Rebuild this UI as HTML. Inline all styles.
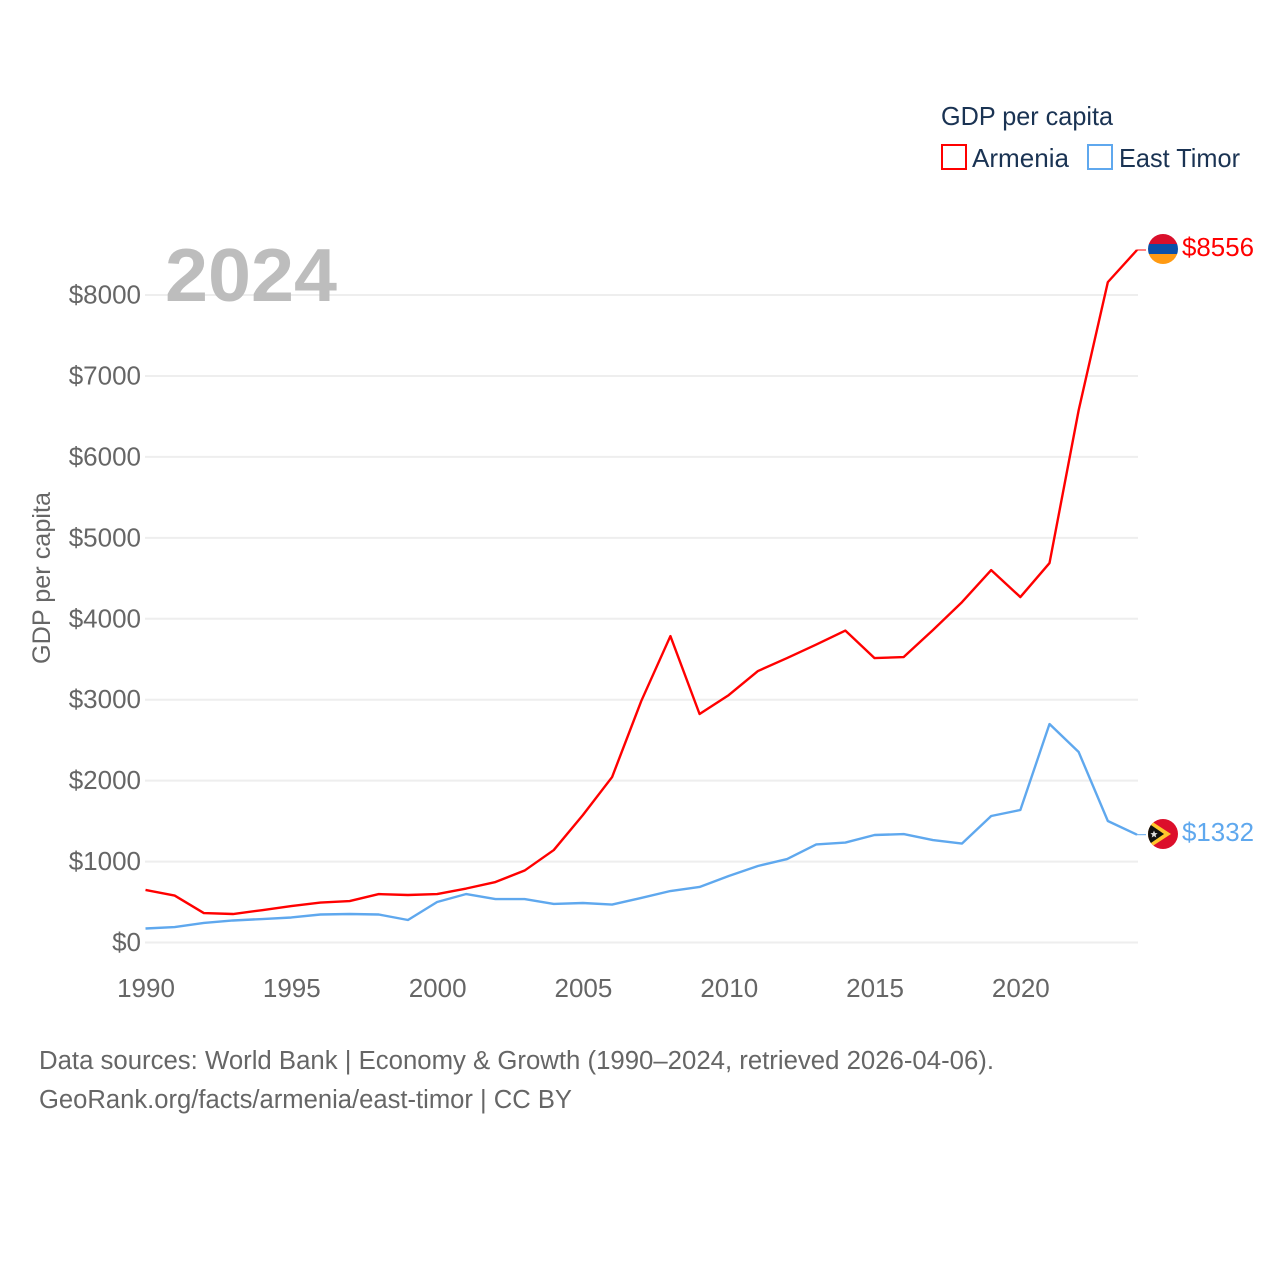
<!DOCTYPE html>
<html lang="en">
<head>
<meta charset="utf-8">
<title>GDP per capita: Armenia and East Timor</title>
<style>
html,body{margin:0;padding:0;background:#fff;width:1280px;height:1280px;overflow:hidden}
svg{display:block}
text{font-family:"Liberation Sans",sans-serif}
</style>
</head>
<body>
<svg id="chart" width="1280" height="1280" viewBox="0 0 1280 1280" xmlns="http://www.w3.org/2000/svg">
  <defs>
    <clipPath id="clip-am"><circle cx="1163" cy="249" r="15"/></clipPath>
    <clipPath id="clip-tl"><circle cx="1163" cy="834" r="15"/></clipPath>
  </defs>
  <g id="grid"></g>
  <g id="ytick-labels"></g>
  <g id="xtick-labels"></g>
  <text x="165" y="301" font-size="75" font-weight="700" fill="#bdbdbd" textLength="172" lengthAdjust="spacingAndGlyphs">2024</text>
  <text transform="translate(50,578) rotate(-90)" text-anchor="middle" font-size="25" fill="#666" textLength="172" lengthAdjust="spacingAndGlyphs">GDP per capita</text>
  <g id="series"></g>

  <g clip-path="url(#clip-am)">
    <rect x="1148" y="234" width="30" height="10" fill="#d90f2b"/>
    <rect x="1148" y="244" width="30" height="10" fill="#0a50a8"/>
    <rect x="1148" y="254" width="30" height="10" fill="#ff9a12"/>
  </g>
  <g clip-path="url(#clip-tl)">
    <rect x="1148" y="819" width="30" height="30" fill="#dc0f2b"/>
    <polygon points="1148,819 1171,834 1148,849" fill="#ffc72c"/>
    <polygon points="1148,823 1164,834 1148,845" fill="#111"/>
    <polygon points="1154,830.5 1155,833 1157.6,833.2 1155.6,834.9 1156.3,837.5 1154,836.1 1151.7,837.5 1152.4,834.9 1150.4,833.2 1153,833" fill="#ddd"/>
  </g>
  <text x="1182" y="256" font-size="25.5" fill="#ff0000" textLength="72" lengthAdjust="spacingAndGlyphs">$8556</text>
  <text x="1182" y="841" font-size="25.5" fill="#5fa8ee" textLength="72" lengthAdjust="spacingAndGlyphs">$1332</text>

  <g>
    <text x="941" y="125" font-size="26" fill="#1a3353" textLength="172" lengthAdjust="spacingAndGlyphs">GDP per capita</text>
    <g>
      <rect x="942" y="145" width="24" height="24" fill="#fff" stroke="#ff0000" stroke-width="2"/>
      <text x="972" y="167" font-size="26" fill="#1a3353" textLength="97" lengthAdjust="spacingAndGlyphs">Armenia</text>
    </g>
    <g>
      <rect x="1088" y="145" width="24" height="24" fill="#fff" stroke="#5fa8ee" stroke-width="2"/>
      <text x="1119" y="167" font-size="26" fill="#1a3353" textLength="121" lengthAdjust="spacingAndGlyphs">East Timor</text>
    </g>
  </g>

  <text x="39" y="1069" font-size="25.5" fill="#666" textLength="955" lengthAdjust="spacingAndGlyphs">Data sources: World Bank | Economy &amp; Growth (1990–2024, retrieved 2026-04-06).</text>
  <text x="39" y="1108" font-size="25.5" fill="#666" textLength="533" lengthAdjust="spacingAndGlyphs">GeoRank.org/facts/armenia/east-timor | CC BY</text>
</svg>
<script>
var years = [1990,1991,1992,1993,1994,1995,1996,1997,1998,1999,2000,2001,2002,2003,2004,2005,2006,2007,2008,2009,2010,2011,2012,2013,2014,2015,2016,2017,2018,2019,2020,2021,2022,2023,2024];
var armenia = [649,580,364,352,400,450,494,512,598,587,598,667,747,889,1142,1575,2044,2983,3786,2823,3057,3354,3514,3681,3854,3514,3527,3860,4206,4601,4268,4688,6578,8159,8556];
var eastTimor = [173,191,241,272,290,309,346,352,346,278,500,599,537,537,476,488,469,550,636,686,821,945,1031,1211,1235,1328,1340,1266,1223,1563,1637,2699,2353,1501,1332];
var yTicks = [0,1000,2000,3000,4000,5000,6000,7000,8000];
var xTicks = [1990,1995,2000,2005,2010,2015,2020];

var NS = 'http://www.w3.org/2000/svg';
function xScale(year){ return 145.5 + (year - 1990) * (1137 - 145.5) / 34; }
function yScale(v){ return 942.5 - v * (942.5 - 295) / 8000; }
function make(tag, attrs){
  var el = document.createElementNS(NS, tag);
  for (var k in attrs) el.setAttribute(k, attrs[k]);
  return el;
}

var grid = document.getElementById('grid');
var yLabels = document.getElementById('ytick-labels');
yTicks.forEach(function(t){
  var y = yScale(t);
  var line = make('line', {x1:145, x2:1138, y1:y, y2:y, stroke:'#eeeeee', 'stroke-width':2});
  
  
  grid.appendChild(line);
  var label = make('text', {x:141, y:y + 8.5, 'text-anchor':'end', 'font-size':26, fill:'#666'});
  
  
  label.textContent = '$' + t;
  yLabels.appendChild(label);
});

var xLabels = document.getElementById('xtick-labels');
xTicks.forEach(function(t){
  var label = make('text', {x:xScale(t) + 0.5, y:997, 'text-anchor':'middle', 'font-size':26, fill:'#666'});
  
  
  label.textContent = t;
  xLabels.appendChild(label);
});

function drawSeries(values, color, name){
  var g = document.getElementById('series');
  var pts = values.map(function(v, i){ return xScale(years[i]).toFixed(2) + ',' + yScale(v).toFixed(2); });
  var line = make('polyline', {points:pts.join(' '), fill:'none', stroke:color, 'stroke-width':2.4, 'stroke-linejoin':'round'});
  
  
  g.appendChild(line);
  var last = yScale(values[values.length - 1]);
  var leader = make('line', {x1:xScale(years[years.length - 1]), x2:1146, y1:last, y2:last, stroke:color, 'stroke-width':1});
  
  
  g.appendChild(leader);
}
drawSeries(armenia, '#ff0000', 'armenia');
drawSeries(eastTimor, '#5fa8ee', 'east-timor');
</script>
</body>
</html>
